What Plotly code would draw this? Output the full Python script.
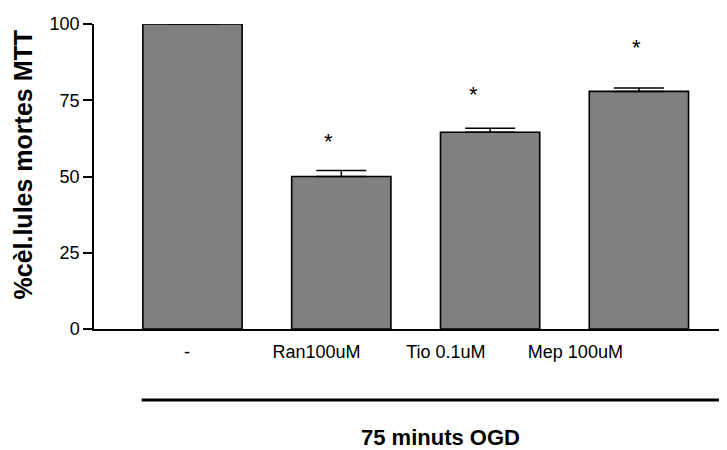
import plotly.graph_objects as go

categories = ["-", "Ran100uM", "Tio 0.1uM", "Mep 100uM"]
means = [100.0, 50.0, 64.5, 77.9]
sem = [0.0, 2.0, 1.3, 1.1]
star_height = [None, 62.8, 78.2, 93.6]
y_ticks = [0, 25, 50, 75, 100]
group_label = "75 minuts OGD"
y_title = "%cèl.lules mortes MTT"

FONT = "Liberation Sans, Arial, sans-serif"
# the page places the figure 8px in from the top-left corner
OFF = 8
W, H = 727 - OFF, 450 - OFF
L, R, T, B = 94 - OFF, 0, 24 - OFF, 450 - 329 - 0
PW, PH = W - L - R, H - T - B


def px_x(px):
    return (px - OFF - L) / PW


def px_y(py):
    return (H - B - (py - OFF)) / PH


xs = list(range(len(categories)))

fig = go.Figure()
fig.add_trace(go.Bar(
    x=xs, y=means, width=0.667,
    marker=dict(color="#808080", line=dict(color="black", width=1.6)),
    error_y=dict(type="data", symmetric=False, array=sem,
                 arrayminus=[0] * len(sem), color="black",
                 thickness=1.5, width=25),
    cliponaxis=False, hoverinfo="skip",
))

# asterisks
star_dx = [0, -0.085, -0.11, -0.015]
for i, h in enumerate(star_height):
    if h is None:
        continue
    fig.add_annotation(x=xs[i] + star_dx[i], y=h, text="*", showarrow=False,
                       xref="x", yref="y", yanchor="middle",
                       font=dict(family=FONT, size=22, color="black"),
                       yshift=-4)

# tick label positions (labels drawn with a narrower spacing than bars)
label_pos = [-0.037 + 0.87 * i for i in xs]

fig.update_xaxes(
    range=[-0.662, 3.592], tickvals=label_pos, ticktext=categories,
    showline=True, linecolor="black", linewidth=1.5, ticks="",
    showgrid=False, zeroline=False,
    tickfont=dict(family=FONT, size=18, color="black"),
    ticklabelstandoff=6,
)
fig.update_yaxes(
    range=[0, 100], tickvals=y_ticks, showline=True, linecolor="black",
    linewidth=1.5, ticks="outside", ticklen=9, tickwidth=1.5,
    tickcolor="black", showgrid=False, zeroline=False,
    tickfont=dict(family=FONT, size=18, color="black"),
)

# group bracket line
fig.add_shape(type="line", xref="paper", yref="paper",
              x0=px_x(141.7), x1=1.0, y0=px_y(400), y1=px_y(400),
              line=dict(color="black", width=3))
fig.add_annotation(text=f"<b>{group_label}</b>", xref="paper", yref="paper",
                   x=px_x(440), y=px_y(437.5), borderpad=0,
                   showarrow=False, xanchor="center", yanchor="middle",
                   font=dict(family=FONT, size=22, color="black"))
fig.add_annotation(text=f"<b>{y_title}</b>", xref="paper", yref="paper",
                   x=px_x(22.5), y=px_y(165),
                   textangle=-90, showarrow=False, xanchor="center",
                   yanchor="middle",
                   font=dict(family=FONT, size=25, color="black"))

fig.update_layout(
    width=W, height=H, margin=dict(l=L, r=R, t=T, b=B),
    paper_bgcolor="white", plot_bgcolor="white", showlegend=False,
)
fig.write_html("out.html")
